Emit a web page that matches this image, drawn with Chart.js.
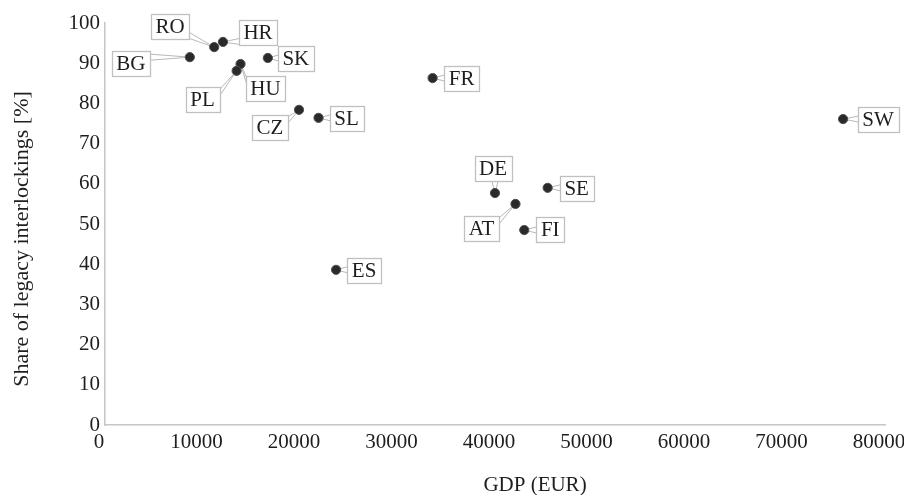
<!DOCTYPE html>
<html>
<head>
<meta charset="utf-8">
<script src="https://cdn.jsdelivr.net/npm/chart.js@4.4.1/dist/chart.umd.min.js"></script>
<style>
  html, body { margin: 0; padding: 0; background: #fff; }
</style>
</head>
<body>
<canvas id="chart" width="904" height="495"></canvas>
<script>
// data
const countries = ['BG', 'RO', 'HR', 'SK', 'HU', 'PL', 'CZ', 'SL', 'FR', 'ES', 'DE', 'AT', 'SE', 'FI', 'SW'];
const gdp = [8700, 11200, 12100, 16700, 13900, 13500, 19900, 21900, 33600, 23700, 40000, 42100, 45400, 43000, 75700];
const legacyShare = [91.5, 94.0, 95.3, 91.3, 89.8, 88.1, 78.4, 76.4, 86.3, 38.6, 57.7, 55.0, 59.0, 48.5, 76.1];
const xTicks = [0, 10000, 20000, 30000, 40000, 50000, 60000, 70000, 80000];
const yTicks = [0, 10, 20, 30, 40, 50, 60, 70, 80, 90, 100];
const xTitle = 'GDP (EUR)';
const yTitle = 'Share of legacy interlockings [%]';

// where each label box sits, relative to its point (px)
const calloutOffsets = {
    BG: [-59, 6], RO: [-44, -21], HR: [35, -9], SK: [28, 1], HU: [25, 24],
    PL: [-34, 29], CZ: [-29, 18], SL: [28, 1], FR: [29, 0], ES: [28, 1],
    DE: [-2, -25], AT: [-34, 25], SE: [29, 1], FI: [26, -1], SW: [35, 0]
};

const serif = '"Liberation Serif", "Times New Roman", serif';
const textColor = '#1e1e1e';

// boxed country labels with a thin pointer to the dot
const callouts = {
    id: 'callouts',
    beforeDatasetsDraw(chart) {
        const ctx = chart.ctx;
        const meta = chart.getDatasetMeta(0);
        ctx.save();
        ctx.font = '21px ' + serif;
        meta.data.forEach((pt, i) => {
            const name = countries[i];
            const [dx, dy] = calloutOffsets[name];
            const cx = pt.x + dx, cy = pt.y + dy;
            const w = Math.round(ctx.measureText(name).width + 9), h = 25;
            const l = Math.round(cx - w / 2) + 0.5, t = Math.round(cy - h / 2) + 0.5;

            // pointer base on the box edge nearest to the dot
            let b1, b2;
            if (pt.x < l || pt.x > l + w) {
                const ex = pt.x < l ? l : l + w;
                const ey = Math.max(t + 4, Math.min(pt.y, t + h - 4));
                b1 = [ex, ey - 3]; b2 = [ex, ey + 3];
            } else {
                const ey = pt.y < t ? t : t + h;
                const ex = Math.max(l + 4, Math.min(pt.x, l + w - 4));
                b1 = [ex - 3, ey]; b2 = [ex + 3, ey];
            }
            ctx.beginPath();
            ctx.moveTo(b1[0], b1[1]);
            ctx.lineTo(pt.x, pt.y);
            ctx.lineTo(b2[0], b2[1]);
            ctx.closePath();
            ctx.fillStyle = '#fff';
            ctx.fill();
            ctx.strokeStyle = '#b8b8b8';
            ctx.lineWidth = 1;
            ctx.stroke();

            ctx.fillStyle = '#fff';
            ctx.fillRect(l, t, w, h);
            ctx.strokeStyle = '#c0c0c0';
            ctx.lineWidth = 1.3;
            ctx.strokeRect(l, t, w, h);

            ctx.fillStyle = textColor;
            ctx.textAlign = 'center';
            ctx.textBaseline = 'middle';
            ctx.fillText(name, cx, cy + 1);
        });
        ctx.restore();
    }
};

// axis titles sit off-centre in the original, so they are placed by hand
const axisTitles = {
    id: 'axisTitles',
    afterDraw(chart) {
        const ctx = chart.ctx;
        ctx.save();
        ctx.fillStyle = textColor;
        ctx.textAlign = 'center';
        ctx.textBaseline = 'middle';
        ctx.font = '21px ' + serif;
        ctx.fillText(xTitle, 535, 485);
        ctx.translate(22, 239);
        ctx.rotate(-Math.PI / 2);
        ctx.font = '22px ' + serif;
        ctx.fillText(yTitle, 0, 0);
        ctx.restore();
    }
};

new Chart(document.getElementById('chart'), {
    type: 'scatter',
    data: {
        datasets: [{
            data: gdp.map((g, i) => ({ x: g, y: legacyShare[i] })),
            pointRadius: 4.6,
            pointBackgroundColor: '#2a2a2a',
            pointBorderColor: '#4d4d4d',
            pointBorderWidth: 1
        }]
    },
    options: {
        responsive: false,
        animation: false,
        layout: { padding: { top: 23, right: 19, bottom: 0, left: 0 } },
        plugins: {
            legend: { display: false },
            tooltip: { enabled: false }
        },
        scales: {
            x: {
                type: 'linear',
                min: 0,
                max: 80000,
                afterBuildTicks: s => { s.ticks = xTicks.map(v => ({ value: v })); },
                afterFit: s => { s.height = 70; s.paddingLeft = 0; s.paddingRight = 0; },
                grid: { drawOnChartArea: false, drawTicks: false },
                border: { color: '#c6c6c6', width: 1.5 },
                ticks: {
                    color: textColor,
                    padding: 5,
                    labelOffset: -6,
                    maxRotation: 0,
                    autoSkip: false,
                    font: { family: serif, size: 21 },
                    callback: v => String(v)
                }
            },
            y: {
                min: 0,
                max: 100,
                afterBuildTicks: s => { s.ticks = yTicks.map(v => ({ value: v })); },
                afterFit: s => { s.width = 105; s.paddingTop = 0; s.paddingBottom = 0; },
                grid: { drawOnChartArea: false, drawTicks: false },
                border: { color: '#c6c6c6', width: 1.5 },
                ticks: {
                    color: textColor,
                    padding: 5,
                    autoSkip: false,
                    font: { family: serif, size: 21 },
                    callback: v => String(v)
                }
            }
        }
    },
    plugins: [callouts, axisTitles]
});
</script>
</body>
</html>
